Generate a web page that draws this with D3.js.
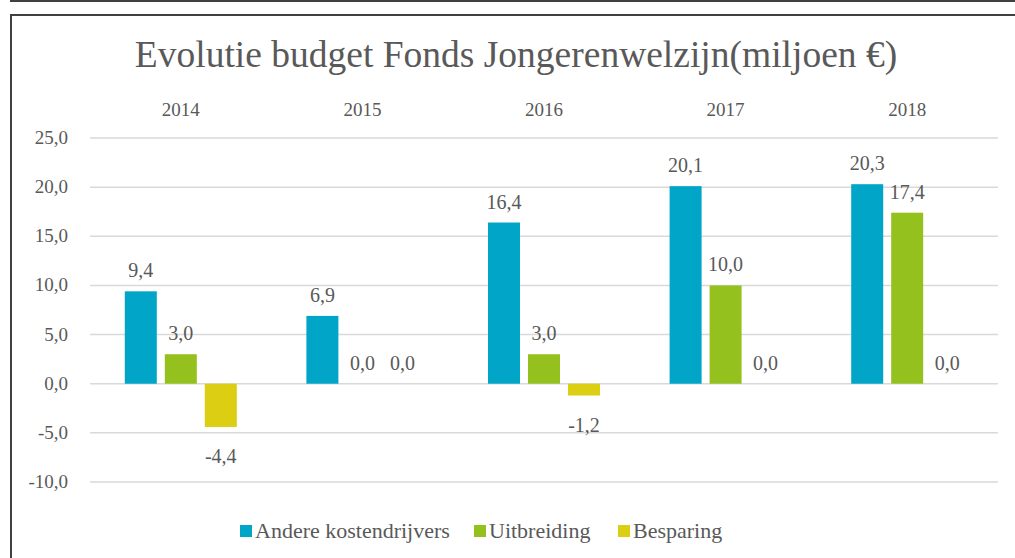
<!DOCTYPE html>
<html>
<head>
<meta charset="utf-8">
<script src="https://cdn.jsdelivr.net/npm/d3@7"></script>
<style>
  html, body { margin: 0; padding: 0; background: #fff; }
  svg { display: block; }
  svg text { font-family: "Liberation Serif", "DejaVu Serif", serif; }
</style>
</head>
<body>
<svg id="chart" width="1015" height="558"></svg>
<script>
const years = ["2014", "2015", "2016", "2017", "2018"];
const series = ["Andere kostendrijvers", "Uitbreiding", "Besparing"];
const andere = [9.4, 6.9, 16.4, 20.1, 20.3];
const uitbreiding = [3.0, 0.0, 3.0, 10.0, 17.4];
const besparing = [-4.4, 0.0, -1.2, 0.0, 0.0];
const yTicks = [25, 20, 15, 10, 5, 0, -5, -10];

const colors = ["#00A5C8", "#95C11F", "#DCCE12"];
const textColor = "#595959";

const svg = d3.select("#chart");

// frame lines
svg.append("line")
  .attr("x1", 10).attr("x2", 1015).attr("y1", 1).attr("y2", 1)
  .attr("stroke", "#404040").attr("stroke-width", 2);
svg.append("path")
  .attr("d", "M11,560 L11,15 L1016,15")
  .attr("fill", "none").attr("stroke", "#404040").attr("stroke-width", 2);

const left = 90, right = 998;
const x = d3.scaleBand().domain(years).range([left, right]);
const y = d3.scaleLinear().domain([-10, 25]).range([482, 138]);

const barW = 32, gap = 8;
const groupW = barW * 3 + gap * 2;

// title
svg.append("text")
  .attr("x", 516).attr("y", 67)
  .attr("text-anchor", "middle")
  .attr("font-size", 37.5)
  .attr("fill", textColor)
  .text("Evolutie budget Fonds Jongerenwelzijn(miljoen €)");

// gridlines
svg.append("g")
  .selectAll("line")
  .data(yTicks)
  .join("line")
  .attr("x1", left).attr("x2", right)
  .attr("y1", d => y(d)).attr("y2", d => y(d))
  .attr("stroke", "#D9D9D9").attr("stroke-width", 1.5);

// y axis labels
const fmt = d => d3.format(".1f")(d).replace(".", ",").replace("−", "-");
svg.append("g")
  .selectAll("text")
  .data(yTicks)
  .join("text")
  .attr("x", 68).attr("y", d => y(d) + 6)
  .attr("text-anchor", "end")
  .attr("font-size", 19)
  .attr("fill", textColor)
  .text(fmt);

// year labels on top
svg.append("g")
  .selectAll("text")
  .data(years)
  .join("text")
  .attr("x", d => x(d) + x.bandwidth() / 2)
  .attr("y", 116)
  .attr("text-anchor", "middle")
  .attr("font-size", 19)
  .attr("fill", textColor)
  .text(d => d);

const values = [andere, uitbreiding, besparing];
const bars = [];
values.forEach((vals, s) => {
  vals.forEach((v, i) => {
    bars.push({ year: years[i], s, v });
  });
});

const bx = d => x(d.year) + (x.bandwidth() - groupW) / 2 + d.s * (barW + gap);

svg.append("g")
  .selectAll("rect")
  .data(bars.filter(d => d.v !== 0))
  .join("rect")
  .attr("x", bx)
  .attr("y", d => y(Math.max(0, d.v)))
  .attr("width", barW)
  .attr("height", d => Math.abs(y(d.v) - y(0)))
  .attr("fill", d => colors[d.s]);

svg.append("g")
  .selectAll("text")
  .data(bars)
  .join("text")
  .attr("x", d => bx(d) + barW / 2)
  .attr("y", d => d.v < 0 ? y(d.v) + 36 : y(d.v) - 14)
  .attr("text-anchor", "middle")
  .attr("font-size", 20)
  .attr("fill", textColor)
  .text(d => fmt(d.v));

// legend
const legendX = [240, 474, 618];
const lg = svg.append("g");
series.forEach((name, i) => {
  lg.append("rect")
    .attr("x", legendX[i]).attr("y", 525)
    .attr("width", 12).attr("height", 12)
    .attr("fill", colors[i]);
  lg.append("text")
    .attr("x", legendX[i] + 15).attr("y", 538)
    .attr("font-family", "Liberation Serif, serif")
    .attr("font-size", 22)
    .attr("fill", textColor)
    .text(name);
});
</script>
</body>
</html>
